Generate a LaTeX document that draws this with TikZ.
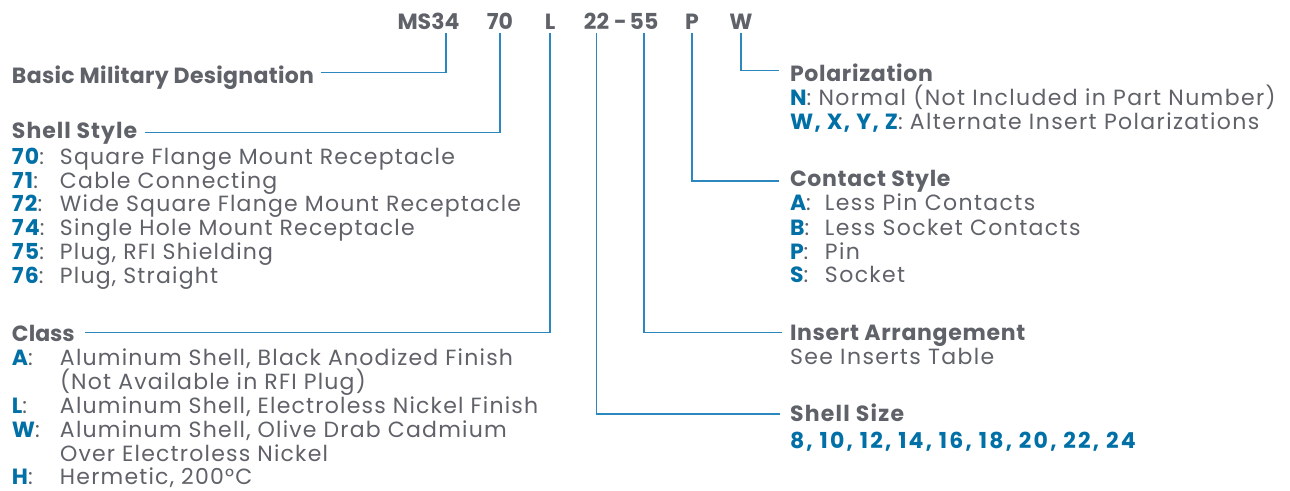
\documentclass[tikz,border=0pt]{standalone}
\usepackage{fontspec}
\setmainfont{Poppins}
\definecolor{tg}{RGB}{96,98,105}
\definecolor{kb}{RGB}{0,112,167}
\definecolor{lc}{RGB}{44,135,190}
\newcommand{\kc}[1]{{\bfseries\color{kb}#1}}
\newcommand{\bodyfont}{\fontsize{22}{24}\selectfont\addfontfeatures{LetterSpace=5.5}}
\newcommand{\rbodyfont}{\fontsize{22}{24}\selectfont\addfontfeatures{LetterSpace=6.3}}
\newcommand{\headfont}[1]{\fontsize{22}{24}\selectfont\bfseries\addfontfeatures{LetterSpace=#1}}
\begin{document}
\begin{tikzpicture}[x=1pt,y=-1pt,
  every node/.style={inner sep=0pt, outer sep=0pt, text=tg, font=\bodyfont},
  code/.style={anchor=base, font=\fontsize{22}{24}\selectfont\bfseries, text depth=0pt, inner ysep=4pt},
  head/.style 2 args={anchor=base west, font=\headfont{#2}, text depth=0pt, text height=#1},
  item/.style={anchor=base west},
  ritem/.style={anchor=base west, font=\rbodyfont},
  conn/.style={draw=lc, line width=1.4pt}]
\useasboundingbox (0,0) rectangle (1290,490);
\fill[white] (0,0) rectangle (1290,490);
% part number
\node[code] (ms) at (428.5,29) {MS34};
\node[code] (c70) at (500,29) {70};
\node[code] (cL) at (550,29) {L};
\node[code] (c22) at (596.5,29) {22};
\node[code] (cdash) at (620.5,29) {-};
\node[code] (c55) at (644,29) {55};
\node[code] (cP) at (692,29) {P};
\node[code] (cW) at (741,29) {W};
% headings
\node[head={22pt}{1.4}] (bmd) at (12,83.3) {Basic Military Designation};
\node[head={13pt}{4.6}] (ss) at (12,138.7) {Shell Style};
\node[head={18.4pt}{0}] (cls) at (12,341.7) {Class};
\node[head={21pt}{3.2}] (pol) at (790,81) {Polarization};
\node[head={11.4pt}{3.2}] (cs) at (790,186.7) {Contact Style};
\node[head={14.6pt}{3.2}] (ia) at (790,340) {Insert Arrangement};
\node[head={15.4pt}{5.7}] (ssz) at (790,421.7) {Shell Size};
% connectors
\draw[conn] ([xshift=17.5pt]ms.south) |- ([xshift=7pt]bmd.east);
\draw[conn] (c70.south) |- ([xshift=8pt]ss.east);
\draw[conn] (cL.south) |- ([xshift=10pt]cls.east);
\draw[conn] (c22.south) |- ([xshift=-10pt]ssz.west);
\draw[conn] (c55.south) |- ([xshift=-8.5pt]ia.west);
\draw[conn] (cP.south) |- ([xshift=-11pt]cs.west);
\draw[conn] (cW.south) |- ([xshift=-11pt]pol.west);
% shell style items
\node[item] (s70) at (12,164.3) {\makebox[48pt][l]{\kc{70}:}Square Flange Mount Receptacle};
\node[item] (s71) at (12,188) {\makebox[48pt][l]{\kc{71}:}Cable Connecting};
\node[item] (s72) at (12,211.7) {\makebox[48pt][l]{\kc{72}:}Wide Square Flange Mount Receptacle};
\node[item] (s74) at (12,235.5) {\makebox[48pt][l]{\kc{74}:}Single Hole Mount Receptacle};
\node[item] (s75) at (12,259.2) {\makebox[48pt][l]{\kc{75}:}Plug, RFI Shielding};
\node[item] (s76) at (12,283) {\makebox[48pt][l]{\kc{76}:}Plug, Straight};
% class items
\node[item] (ca) at (12,365) {\makebox[48pt][l]{\kc{A}:}Aluminum Shell, Black Anodized Finish};
\node[item] (ca2) at (60,389) {(Not Available in RFI Plug)};
\node[item] (cl) at (12,413) {\makebox[48pt][l]{\kc{L}:}Aluminum Shell, Electroless Nickel Finish};
\node[item] (cw) at (12,437) {\makebox[48pt][l]{\kc{W}:}Aluminum Shell, Olive Drab Cadmium};
\node[item] (cw2) at (60,461) {Over Electroless Nickel};
\node[item, text depth=2pt] (ch) at (12,484.5) {\makebox[48pt][l]{\kc{H}:}Hermetic, 200°C};
% polarization items
\node[ritem] (pn) at (790,105.7) {\kc{N}: Normal (Not Included in Part Number)};
\node[ritem] (pw) at (790,129) {\kc{W, X, Y, Z}: Alternate Insert Polarizations};
% contact style items
\node[ritem] (ka) at (790,210.7) {\makebox[35pt][l]{\kc{A}:}Less Pin Contacts};
\node[ritem] (kb) at (790,235) {\makebox[35pt][l]{\kc{B}:}Less Socket Contacts};
\node[ritem] (kp) at (790,259) {\makebox[35pt][l]{\kc{P}:}Pin};
\node[ritem] (ks) at (790,282.7) {\makebox[35pt][l]{\kc{S}:}Socket};
% insert arrangement / shell size
\node[ritem] (iat) at (790,364) {See Inserts Table};
\node[item, font=\fontsize{22}{24}\selectfont\bfseries\addfontfeatures{LetterSpace=10}] (szs) at (790,448.3) {\color{kb}8, 10, 12, 14, 16, 18, 20, 22, 24};
\end{tikzpicture}
\end{document}
